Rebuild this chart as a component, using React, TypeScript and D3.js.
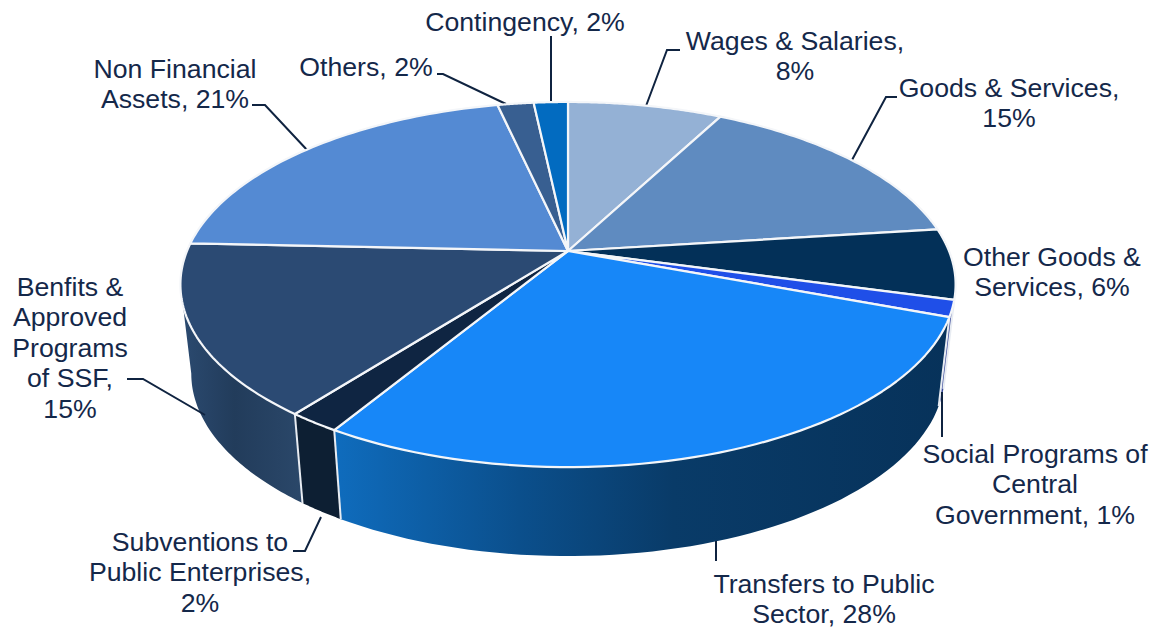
import React from "react";
import * as d3 from "d3";

// ---- data (share of total, %) ----
const categories = ["Wages & Salaries","Goods & Services","Other Goods & Services","Social Programs of Central Government","Transfers to Public Sector","Subventions to Public Enterprises","Benfits & Approved Programs of SSF","Non Financial Assets","Others","Contingency"];
const values = [7.7, 15.3, 6.25, 1.45, 27.95, 1.85, 15.2, 20.8, 1.8, 1.7];
const labelLines = [
  ["Wages & Salaries,", "8%"],
  ["Goods & Services,", "15%"],
  ["Other Goods &", "Services, 6%"],
  ["Social Programs of", "Central", "Government, 1%"],
  ["Transfers to Public", "Sector, 28%"],
  ["Subventions to", "Public Enterprises,", "2%"],
  ["Benfits &", "Approved", "Programs", "of SSF,", "15%"],
  ["Non Financial", "Assets, 21%"],
  ["Others, 2%"],
  ["Contingency, 2%"],
];

// ---- styles ----
const topColors = ["#94b1d5","#5f8bc0","#033058","#1f4fe8","#1787f8","#0f2542","#2b4a73","#548ad3","#385f91","#026bc0"];
const INK = "#14284a";
const LEADER = "#0f2340";
const labelPos: [number, number][] = [
  [795, 50], [1009, 97], [1052, 266], [1035, 463], [824, 593], [200, 551], [70, 296], [175, 78], [366, 76], [525, 31],
];
const leaders: [number, number][][] = [
  [[646,106],[667,50],[680,50]],
  [[852,160],[886,97],[897,97]],
  [],
  [[942,392],[942,437]],
  [[716,541],[716,561]],
  [[321,517],[305,551],[293,551]],
  [[205,415],[143,379],[127,379]],
  [[308,151],[265,105],[252,105]],
  [[506,104],[443,74],[437,74]],
  [[551,102],[551,36]],
];

// ---- projection of the tilted disc ----
const CX = 568, CY = 251, RX = 381, RY = 176.4, K = 0.1836;
const project = (a: number, sx = 1, y0 = CY) => {
  const u = Math.sin(a), v = -Math.cos(a), w = 1 - K * v;
  return [CX + sx * RX * u / w, y0 + RY * v / w] as [number, number];
};
const BOTTOM_SX = 0.972, BOTTOM_Y0 = 340;
const WALL_A = (100.6 * Math.PI) / 180, WALL_B = (259.4 * Math.PI) / 180;

const pie = d3.pie<number>().sort(null).startAngle(0).endAngle(2 * Math.PI);
const arcs = pie(values);
const line = d3.line();

const sample = (a0: number, a1: number, sx?: number, y0?: number) =>
  d3.range(0, 61).map((i) => project(a0 + ((a1 - a0) * i) / 60, sx, y0));

const wallPath = (a0: number, a1: number) =>
  line([...sample(a0, a1), ...sample(a1, a0, BOTTOM_SX, BOTTOM_Y0)])! + "Z";
const topPath = (a0: number, a1: number) =>
  line([[CX, CY], ...sample(a0, a1)])! + "Z";

const wallFill = (i: number) =>
  i === 4 ? "url(#gTransfers)" : i === 6 ? "url(#gBenefits)" : i === 5 ? "#0d1f33" : i === 3 ? "#3a4a9a" : topColors[i];

export default function App() {
  return (
    <svg width={1156} height={628} style={{ position: "absolute", left: 0, top: 0, background: "#fff" }} fontFamily="'Liberation Sans', Arial, sans-serif">
      <defs>
        <linearGradient id="gTransfers" gradientUnits="userSpaceOnUse" x1={335} x2={950} y1={0} y2={0}>
          <stop offset="0" stopColor="#0f6cbd" />
          <stop offset="0.3" stopColor="#0b4f8c" />
          <stop offset="0.55" stopColor="#093b68" />
          <stop offset="1" stopColor="#07325a" />
        </linearGradient>
        <linearGradient id="gBenefits" gradientUnits="userSpaceOnUse" x1={181} x2={300} y1={0} y2={0}>
          <stop offset="0" stopColor="#2b4a70" />
          <stop offset="0.45" stopColor="#223c5b" />
          <stop offset="1" stopColor="#2a4769" />
        </linearGradient>
      </defs>

      {arcs.map((d, i) => {
        const a0 = Math.max(d.startAngle, WALL_A), a1 = Math.min(d.endAngle, WALL_B);
        if (a1 <= a0) return null;
        return <path key={i} d={wallPath(a0, a1)} fill={wallFill(i)} stroke="none" />;
      })}
      {arcs.map((d, i) => {
        if (d.startAngle <= WALL_A || d.startAngle >= WALL_B) return null;
        return <path key={i} d={line([project(d.startAngle), project(d.startAngle, BOTTOM_SX, BOTTOM_Y0)])!} stroke="#e8ecf2" strokeWidth={2} fill="none" />;
      })}

      {leaders.map((pts, i) => pts.length ? <path key={i} d={line(pts)!} fill="none" stroke={LEADER} strokeWidth={2} /> : null)}

      {arcs.map((d, i) => (
        <path key={i} d={topPath(d.startAngle, d.endAngle)} fill={topColors[i]} stroke="#f4f6f9" strokeWidth={2.2} strokeLinejoin="round" />
      ))}

      {labelLines.map((lines, i) => (
        <text key={categories[i]} textAnchor="middle" fontSize={26.67} fill={INK}>
          {lines.map((t, j) => (
            <tspan key={j} x={labelPos[i][0]} y={labelPos[i][1] + j * 30.4}>{t}</tspan>
          ))}
        </text>
      ))}
    </svg>
  );
}
